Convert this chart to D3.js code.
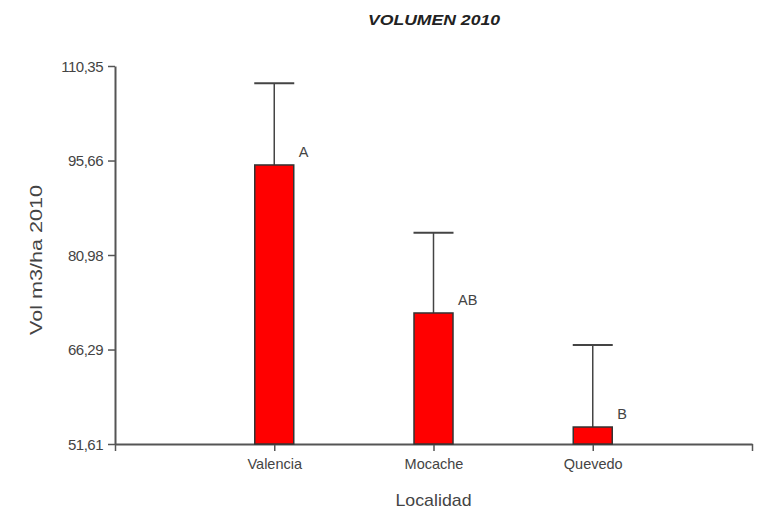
<!DOCTYPE html>
<html>
<head>
<meta charset="utf-8">
<script src="https://cdn.jsdelivr.net/npm/d3@7"></script>
<style>
  html, body { margin: 0; padding: 0; background: #fff; }
  svg { display: block; font-family: "Liberation Sans", Arial, sans-serif; }
</style>
</head>
<body>
<svg id="chart" width="766" height="529"></svg>
<script>
// Volume per locality, 2010 (mean and standard error)
const categories = ["Valencia", "Mocache", "Quevedo"];
const means = [94.97, 71.97, 54.25];
const errors = [12.69, 12.47, 12.74];
const groups = ["A", "AB", "B"];
const yTicks = [51.61, 66.29, 80.98, 95.66, 110.35];

const svg = d3.select("#chart");
const plotLeft = 115, plotRight = 752, plotTop = 66, plotBottom = 444;
const axisColor = "#555";
const textColor = "#444";

// Point scale with empty slots at both ends so the bars sit between the axis ends
const x = d3.scalePoint()
  .domain(["_start", ...categories, "_end"])
  .range([plotLeft, plotRight]);

const y = d3.scaleLinear()
  .domain([yTicks[0], yTicks[yTicks.length - 1]])
  .range([plotBottom, plotTop]);

const barW = 39;
const fmt = v => v.toFixed(2).replace(".", ",");

// Title
svg.append("text")
  .attr("x", 434).attr("y", 25)
  .attr("text-anchor", "middle")
  .style("font-weight", "bold").style("font-style", "italic")
  .style("font-size", "14px")
  .attr("textLength", 132).attr("lengthAdjust", "spacingAndGlyphs")
  .attr("fill", "#222")
  .text("VOLUMEN 2010");

// Y axis
const yAxis = svg.append("g")
  .attr("transform", `translate(${plotLeft},0)`)
  .call(d3.axisLeft(y).tickValues(yTicks).tickFormat(fmt).tickSize(7).tickSizeOuter(0));
yAxis.select(".domain").attr("stroke", axisColor).attr("stroke-width", 2);
yAxis.selectAll(".tick line").attr("stroke", axisColor).attr("stroke-width", 1.5);
yAxis.selectAll(".tick text")
  .attr("fill", textColor).style("font-size", "15px")
  .attr("dy", "0.35em").attr("x", -12)
  .style("letter-spacing", "-0.5px");

// X axis
const xAxis = svg.append("g")
  .attr("transform", `translate(0,${plotBottom})`)
  .call(d3.axisBottom(x).tickSize(7).tickSizeOuter(0)
    .tickFormat(d => d.startsWith("_") ? "" : d));
xAxis.select(".domain").attr("stroke", axisColor).attr("stroke-width", 2);
xAxis.selectAll(".tick line").attr("stroke", axisColor).attr("stroke-width", 1.5);
xAxis.selectAll(".tick text")
  .attr("fill", textColor).style("font-size", "14.5px").attr("y", 15);

// Axis titles
svg.append("text")
  .attr("transform", `translate(42,${(plotTop + plotBottom) / 2 + 5}) rotate(-90)`)
  .attr("text-anchor", "middle")
  .attr("fill", textColor).style("font-size", "17px")
  .attr("textLength", 150).attr("lengthAdjust", "spacingAndGlyphs")
  .text("Vol m3/ha 2010");

svg.append("text")
  .attr("x", x(categories[1])).attr("y", 506)
  .attr("text-anchor", "middle")
  .attr("fill", textColor).style("font-size", "17px")
  .attr("textLength", 76).attr("lengthAdjust", "spacingAndGlyphs")
  .text("Localidad");

const data = categories.map((c, i) => ({ c, m: means[i], e: errors[i], g: groups[i] }));

// Error bars (upper whisker only)
const err = svg.append("g").attr("stroke", "#444").attr("stroke-width", 1.5);
err.selectAll("line.whisker").data(data).join("line")
  .attr("class", "whisker")
  .attr("x1", d => x(d.c)).attr("x2", d => x(d.c))
  .attr("y1", d => y(d.m)).attr("y2", d => y(d.m + d.e));
err.selectAll("line.cap").data(data).join("line")
  .attr("class", "cap")
  .attr("stroke-width", 2)
  .attr("x1", d => x(d.c) - 20).attr("x2", d => x(d.c) + 20)
  .attr("y1", d => y(d.m + d.e)).attr("y2", d => y(d.m + d.e));

// Bars
svg.append("g").selectAll("rect").data(data).join("rect")
  .attr("x", d => x(d.c) - barW / 2)
  .attr("y", d => y(d.m))
  .attr("width", barW)
  .attr("height", d => y(yTicks[0]) - y(d.m))
  .attr("fill", "#ff0000")
  .attr("stroke", "#333").attr("stroke-width", 1.5);

// Group letters
svg.append("g").selectAll("text").data(data).join("text")
  .attr("x", d => x(d.c) + barW / 2 + 5)
  .attr("y", d => y(d.m) - 8)
  .attr("fill", textColor).style("font-size", "14.5px")
  .text(d => d.g);
</script>
</body>
</html>
